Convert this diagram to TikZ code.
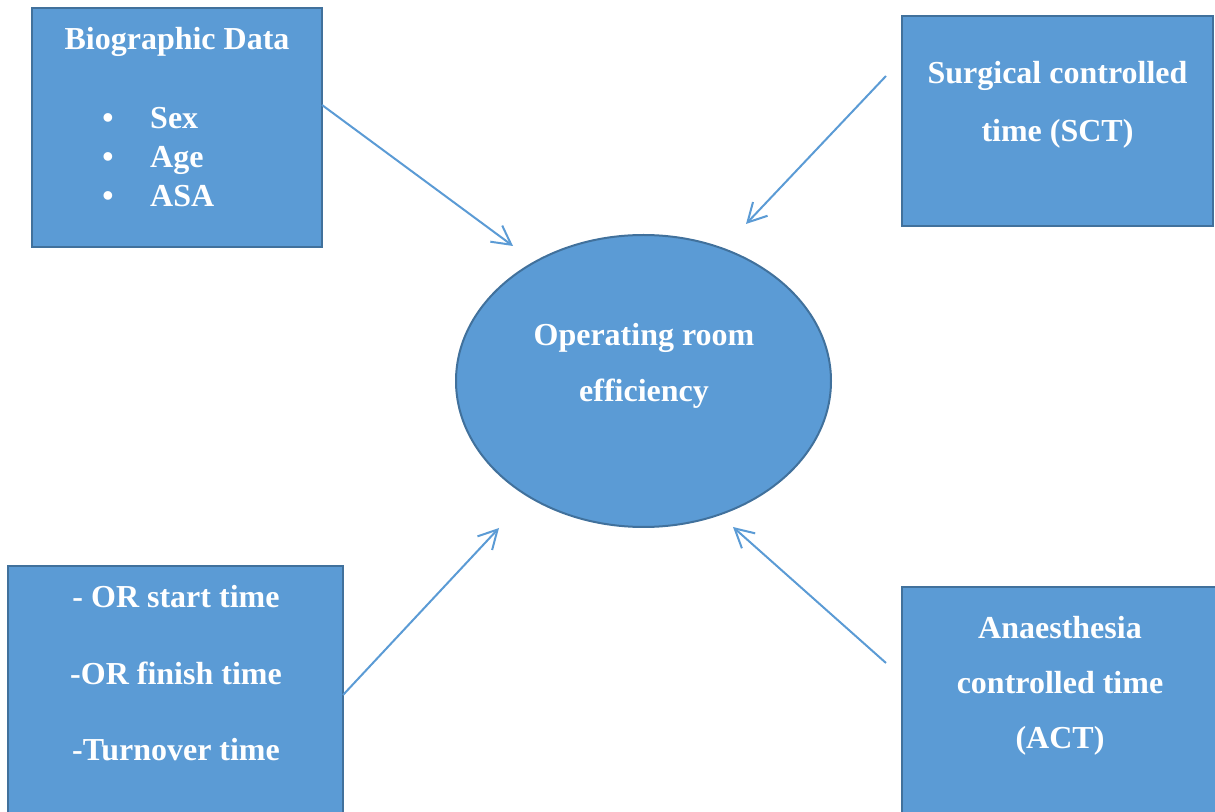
\documentclass[tikz,border=0pt]{standalone}
\usepackage{fontspec}
\setmainfont{Liberation Serif}
\usetikzlibrary{arrows.meta,shapes.geometric}
\definecolor{boxfill}{HTML}{5B9BD5}
\definecolor{boxedge}{HTML}{41719C}
\definecolor{linkblue}{HTML}{5B9BD5}
\begin{document}
\begin{tikzpicture}[x=0.75pt,y=-0.75pt,
  panel/.style={draw=boxedge, fill=boxfill, line width=1.5pt, inner sep=0pt},
  oval/.style={panel, ellipse},
  caption/.style={text=white, inner sep=0pt, anchor=base, align=center,
    font=\fontsize{24}{#1}\selectfont\bfseries},
  caption/.default=30,
  link/.style={draw=linkblue, line width=1.5pt,
    -{Straight Barb[length=14pt,width=15pt,line width=1.5pt]}}
]
\useasboundingbox (0,0) rectangle (1215,812);
\clip (0,0) rectangle (1215,812);

% boxes and central ellipse
\node[panel, minimum width=217.5pt, minimum height=179.25pt] (bio) at (177,127.5) {};
\node[panel, minimum width=233.25pt, minimum height=157.5pt] (sct) at (1057.5,121) {};
\node[panel, minimum width=251.25pt, minimum height=205.5pt] (ortime) at (175.5,703) {};
\node[panel, minimum width=246pt, minimum height=189.75pt] (act) at (1066,713.5) {};
\node[oval, minimum width=281.25pt, minimum height=219pt] (eff) at (643.5,381) {};

% texts (multi-line nodes are placed by the baseline of their last line)
\node[caption] (bioTitle) at (177,50) {Biographic Data};
\node[caption=29.6, anchor=base west, align=left] (bioList) at (102,207)
  {\makebox[36pt][l]{\textbullet}Sex\\\makebox[36pt][l]{\textbullet}Age\\\makebox[36pt][l]{\textbullet}ASA};
\node[caption=43.5] (sctText) at (1057.5,142) {Surgical controlled\\time (SCT)};
\node[caption=57.4] (orText) at (176,761) {- OR start time\\-OR finish time\\-Turnover time};
\node[caption=41.3] (actText) at (1060,749) {Anaesthesia\\controlled time\\(ACT)};
\node[caption=42] (effText) at (644,402) {Operating room\\efficiency};

% connector ends
\coordinate (bioOut) at (322,105);
\coordinate (effNW) at (513,246);
\coordinate (sctOut) at (886,76);
\coordinate (effNE) at (746,224);
\coordinate (orOut) at (343,695);
\coordinate (effSW) at (499,528);
\coordinate (actOut) at (886,663);
\coordinate (effSE) at (733,527);

\draw[link] (bioOut) -- (effNW);
\draw[link] (sctOut) -- (effNE);
\draw[link] (orOut) -- (effSW);
\draw[link] (actOut) -- (effSE);
\end{tikzpicture}
\end{document}
